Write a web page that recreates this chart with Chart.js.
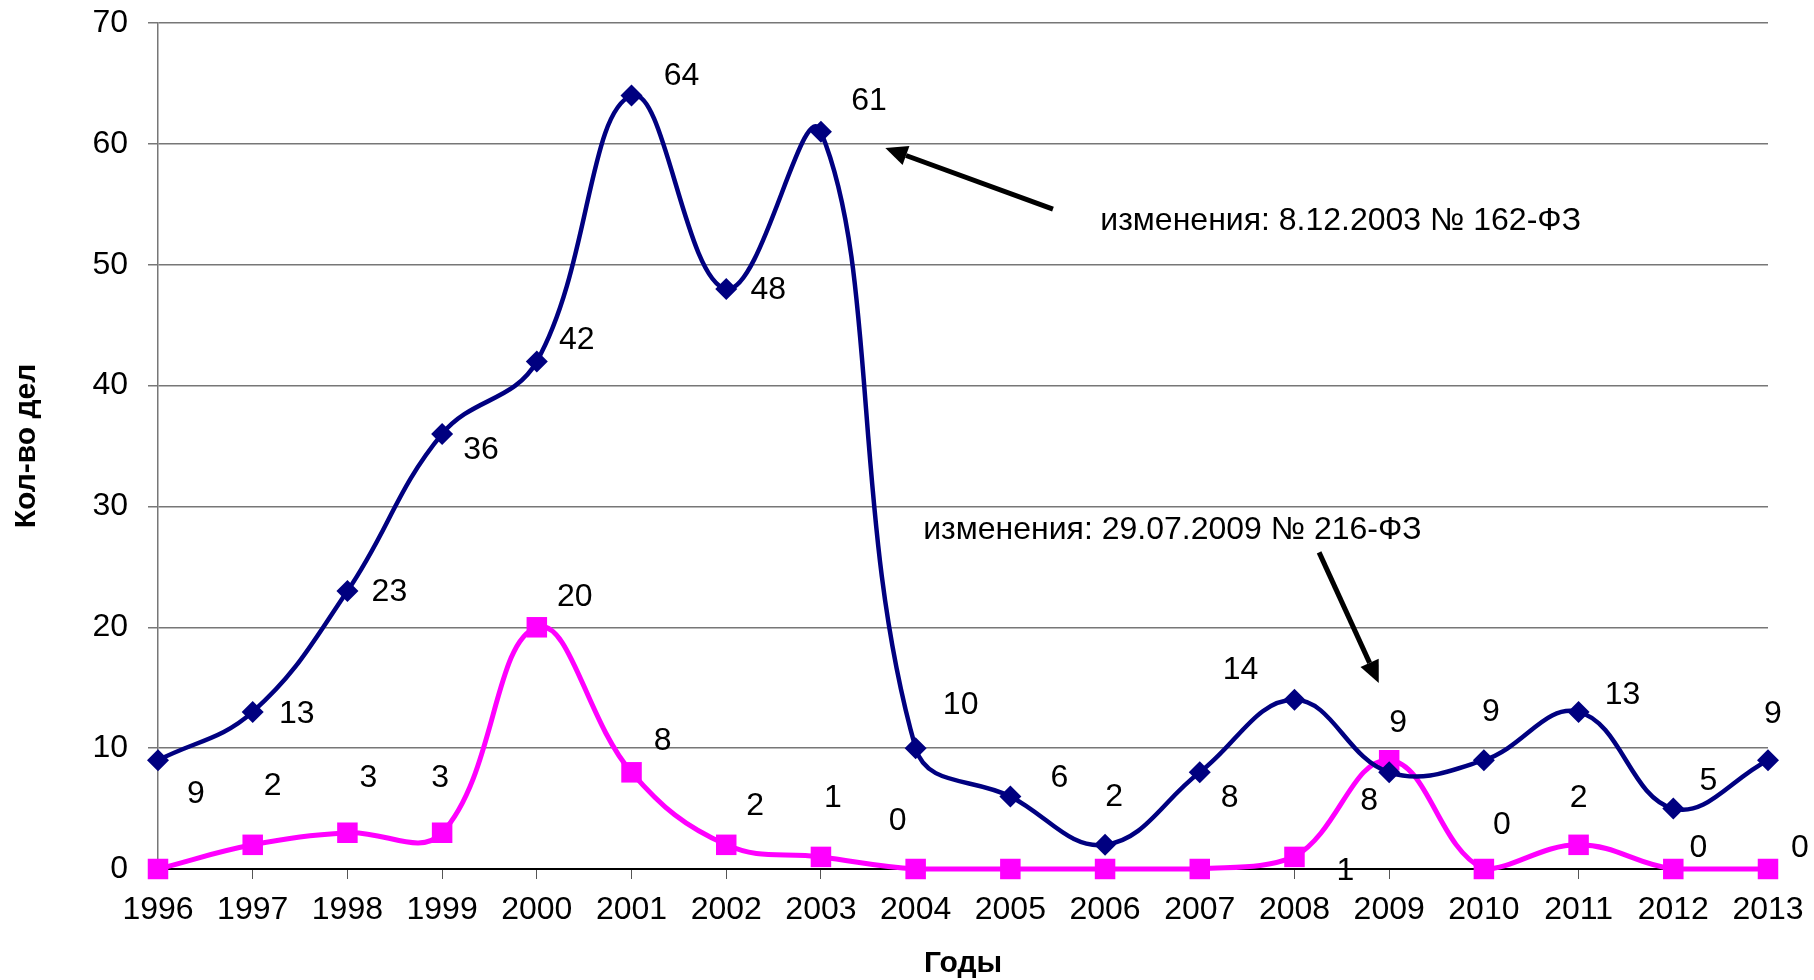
<!DOCTYPE html>
<html lang="ru">
<head>
<meta charset="utf-8">
<title>Кол-во дел по годам</title>
<script src="https://cdn.jsdelivr.net/npm/chart.js@4/dist/chart.umd.min.js"></script>
<style>
  html, body { margin: 0; padding: 0; background: #fff; }
  #wrap { width: 1814px; height: 980px; position: relative; }
</style>
</head>
<body>
<div id="wrap"><canvas id="grafico"></canvas></div>
<script>
"use strict";

const anios = ["1996", "1997", "1998", "1999", "2000", "2001", "2002", "2003", "2004",
               "2005", "2006", "2007", "2008", "2009", "2010", "2011", "2012", "2013"];
const casosAzul = [9, 13, 23, 36, 42, 64, 48, 61, 10, 6, 2, 8, 14, 8, 9, 13, 5, 9];
const casosRosa = [0, 2, 3, 3, 20, 8, 2, 1, 0, 0, 0, 0, 1, 9, 0, 2, 0, 0];
const ticksY = [0, 10, 20, 30, 40, 50, 60, 70];

// desplazamiento de cada etiqueta respecto a su punto (px); null = sin etiqueta
const offsetsAzul = [
  [38, 34], [44, 2], [42, 1], [39, 16], [40, -21], [50, -19], [42, 1], [48, -31], [45, -43],
  [49, -18], [9, -48], [30, 26], [-54, -30], [-20, 29], [7, -48], [44, -17], [35, -27], [5, -46]
];
const offsetsRosa = [
  null, [20, -59], [21, -55], [-2, -55], [38, -30], [31, -31], [29, -39], [12, -59], [-18, -48],
  null, null, null, [51, 14], [9, -37], [18, -44], [0, -47], [25, -21], [32, -21]
];

// anotaciones en unidades de los ejes (año, valor)
const notas = [
  { texto: "изменения: 8.12.2003 № 162-ФЗ", anio: 2005.95, valor: 53.6 },
  { texto: "изменения: 29.07.2009 № 216-ФЗ", anio: 2004.08, valor: 28.05 }
];
const flechas = [
  { desde: [2005.45, 54.6], hasta: [2003.68, 59.66] },
  { desde: [2008.26, 26.2], hasta: [2008.89, 15.4] }
];

const FUENTE = "'Liberation Sans', Arial, sans-serif";

const pluginAnotaciones = {
  id: "anotaciones",
  afterDatasetsDraw(chart) {
    const ctx = chart.ctx;
    const sx = chart.scales.x;
    const sy = chart.scales.y;
    const px = a => sx.getPixelForValue(a - Number(anios[0]));

    ctx.save();
    ctx.fillStyle = "#000";
    ctx.font = `32px ${FUENTE}`;
    ctx.textAlign = "center";
    ctx.textBaseline = "middle";

    [[0, offsetsAzul, casosAzul], [1, offsetsRosa, casosRosa]].forEach(([idx, offs, vals]) => {
      const meta = chart.getDatasetMeta(idx);
      meta.data.forEach((p, i) => {
        if (!offs[i]) return;
        ctx.fillText(String(vals[i]), p.x + offs[i][0], p.y + offs[i][1]);
      });
    });

    ctx.textAlign = "left";
    notas.forEach(n => ctx.fillText(n.texto, px(n.anio), sy.getPixelForValue(n.valor)));

    ctx.strokeStyle = "#000";
    ctx.lineWidth = 5;
    flechas.forEach(f => {
      const x1 = px(f.desde[0]), y1 = sy.getPixelForValue(f.desde[1]);
      const x2 = px(f.hasta[0]), y2 = sy.getPixelForValue(f.hasta[1]);
      const ang = Math.atan2(y2 - y1, x2 - x1);
      const largo = 22, ancho = 10;
      const bx = x2 - Math.cos(ang) * largo, by = y2 - Math.sin(ang) * largo;
      ctx.beginPath();
      ctx.moveTo(x1, y1);
      ctx.lineTo(bx, by);
      ctx.stroke();
      ctx.beginPath();
      ctx.moveTo(x2, y2);
      ctx.lineTo(bx - Math.sin(ang) * ancho, by + Math.cos(ang) * ancho);
      ctx.lineTo(bx + Math.sin(ang) * ancho, by - Math.cos(ang) * ancho);
      ctx.closePath();
      ctx.fill();
    });
    ctx.restore();
  }
};

new Chart(document.getElementById("grafico"), {
  type: "line",
  data: {
    labels: anios,
    datasets: [
      {
        label: "Кол-во дел",
        data: casosAzul,
        borderColor: "#000080",
        backgroundColor: "#000080",
        borderWidth: 4.5,
        tension: 0.4,
        pointStyle: "rectRot",
        pointRadius: 11,
        pointBorderWidth: 0,
        clip: false
      },
      {
        label: "Кол-во дел (2)",
        data: casosRosa,
        borderColor: "#FF00FF",
        backgroundColor: "#FF00FF",
        borderWidth: 5,
        tension: 0.4,
        pointStyle: "rect",
        pointRadius: 14.5,
        pointBorderWidth: 0,
        clip: false
      }
    ]
  },
  options: {
    responsive: true,
    maintainAspectRatio: false,
    animation: false,
    layout: { padding: { left: 0, right: 46, top: 23, bottom: 0 } },
    plugins: {
      legend: { display: false },
      tooltip: { enabled: false }
    },
    scales: {
      x: {
        offset: false,
        grid: { drawOnChartArea: false, color: "#555", tickLength: 10 },
        border: { color: "#000", width: 2 },
        ticks: { color: "#000", font: { family: FUENTE, size: 32 }, padding: 12, maxRotation: 0, autoSkip: false },
        title: { display: true, text: "Годы", color: "#000", font: { family: FUENTE, size: 30, weight: "bold", lineHeight: 1.1 }, padding: { top: 0, bottom: 0 } },
        afterFit: s => { s.height = 111; s.paddingLeft = 0; s.paddingRight = 0; }
      },
      y: {
        min: 0,
        max: 70,
        afterBuildTicks: s => { s.ticks = ticksY.map(v => ({ value: v })); },
        grid: { color: "#777", lineWidth: 1.5, tickLength: 10 },
        border: { color: "#777", width: 1.5 },
        ticks: { color: "#000", font: { family: FUENTE, size: 32 }, padding: 20 },
        title: { display: true, text: "Кол-во дел", color: "#000", font: { family: FUENTE, size: 30, weight: "bold" }, padding: { top: 9, bottom: 0 } },
        afterFit: s => { s.width = 158; s.paddingTop = 0; s.paddingBottom = 0; }
      }
    }
  },
  plugins: [pluginAnotaciones]
});
</script>
</body>
</html>
